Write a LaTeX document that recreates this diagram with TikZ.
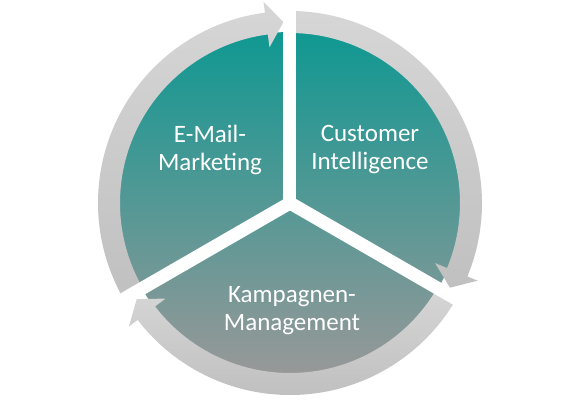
\documentclass[tikz,border=0pt]{standalone}
\usepackage{fontspec}
\setmainfont{Carlito}
\definecolor{tealtop}{RGB}{16,152,146}
\definecolor{tealmid}{RGB}{78,160,155}
\definecolor{graybot}{RGB}{152,152,152}
\definecolor{ringtop}{RGB}{214,214,214}
\definecolor{ringbot}{RGB}{192,192,192}
\tikzset{
  ringarrow/.style={top color=ringtop, bottom color=ringbot, draw=none},
  gapline/.style={draw=white, line width=13pt},
  label/.style={text=white, align=center, font=\fontsize{25}{28}\selectfont}
}
\begin{document}
\begin{tikzpicture}
\path[use as bounding box, fill=white] (-290pt,-197pt) rectangle (289pt,203pt);
\coordinate (c) at (0,0);
% pie
\shade[top color=tealtop, middle color=tealmid, bottom color=graybot]
  (c) circle[radius=171pt];
% ring arrows
% arrow 1: around E-Mail-Marketing, head at top
\shade[ringarrow] (210:192pt) arc[start angle=210, end angle=97.5, radius=192pt]
  -- (97.5:203pt) -- (92.1:181pt) -- (97.5:157pt) -- (97.5:170pt)
  arc[start angle=97.5, end angle=210, radius=170pt] -- cycle;
% arrow 2: around Customer Intelligence, head at lower right
\shade[ringarrow] (90:192pt) arc[start angle=90, end angle=-22.5, radius=192pt]
  -- (-22.5:203pt) -- (-27.9:181pt) -- (-22.5:157pt) -- (-22.5:170pt)
  arc[start angle=-22.5, end angle=90, radius=170pt] -- cycle;
% arrow 3: around Kampagnen-Management, head at lower left
\shade[ringarrow] (-30:192pt) arc[start angle=-30, end angle=-142.5, radius=192pt]
  -- (-142.5:203pt) -- (-147.9:181pt) -- (-142.5:157pt) -- (-142.5:170pt)
  arc[start angle=-142.5, end angle=-30, radius=170pt] -- cycle;
% gaps
\coordinate (g1) at (90:200pt);
\coordinate (g2) at (210:200pt);
\coordinate (g3) at (330:200pt);
\draw[gapline] (c) -- (g1);
\draw[gapline] (c) -- (g2);
\draw[gapline] (c) -- (g3);
\fill[white] (c) circle[radius=6.5pt];
% labels
\node[label] (email) at (-80pt,53pt) {E-Mail-\\Marketing};
\node[label] (ci) at (80pt,53pt) {Customer\\Intelligence};
\node[label] (kamp) at (2pt,-108pt) {Kampagnen-\\Management};
\end{tikzpicture}
\end{document}
